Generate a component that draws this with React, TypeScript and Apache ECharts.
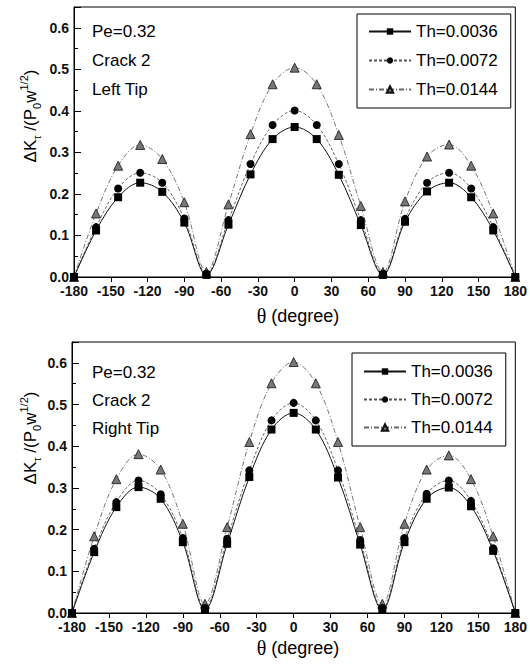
import React, { useEffect, useRef } from "react";
import * as echarts from "echarts";

// Angle positions along the crack front (degrees)
const theta = [-180, -162, -144, -126, -108, -90, -72, -54, -36, -18, 0, 18, 36, 54, 72, 90, 108, 126, 144, 162, 180];

const seriesNames = ["Th=0.0036", "Th=0.0072", "Th=0.0144"];

// Crack 2, left tip
const leftTh0036 = [0, 0.112, 0.192, 0.227, 0.205, 0.131, 0.005, 0.126, 0.247, 0.332, 0.361, 0.332, 0.246, 0.125, 0.005, 0.133, 0.206, 0.227, 0.192, 0.112, 0];
const leftTh0072 = [0, 0.120, 0.213, 0.251, 0.227, 0.141, 0.008, 0.137, 0.272, 0.366, 0.401, 0.366, 0.272, 0.137, 0.008, 0.140, 0.227, 0.251, 0.213, 0.120, 0];
const leftTh0144 = [0, 0.153, 0.268, 0.318, 0.284, 0.180, 0.012, 0.175, 0.344, 0.464, 0.504, 0.464, 0.342, 0.171, 0.012, 0.182, 0.290, 0.319, 0.268, 0.153, 0];

// Crack 2, right tip
const rightTh0036 = [0, 0.146, 0.254, 0.302, 0.274, 0.170, 0.008, 0.166, 0.326, 0.440, 0.480, 0.440, 0.325, 0.164, 0.008, 0.170, 0.274, 0.301, 0.256, 0.149, 0];
const rightTh0072 = [0, 0.154, 0.266, 0.318, 0.285, 0.180, 0.012, 0.178, 0.342, 0.462, 0.504, 0.462, 0.342, 0.175, 0.012, 0.180, 0.286, 0.318, 0.269, 0.155, 0];
const rightTh0144 = [0, 0.184, 0.321, 0.381, 0.344, 0.214, 0.022, 0.206, 0.410, 0.551, 0.602, 0.551, 0.410, 0.206, 0.022, 0.214, 0.344, 0.378, 0.321, 0.184, 0];

const xTicks = { min: -180, max: 180, interval: 30 };
const yTicks = { min: 0, max: 0.65, interval: 0.1 };

const SANS = 'Arial, "Liberation Sans", Helvetica, sans-serif';
const SERIF = '"Times New Roman", "Liberation Serif", serif';

const pair = (ys: number[]) => theta.map((t, i) => [t, ys[i]]);

const styles = [
  { symbol: "rect", symbolSize: 8, line: { color: "#111", width: 1, type: "solid" }, item: { color: "#000", borderColor: "#000", borderWidth: 0 } },
  { symbol: "circle", symbolSize: 8, line: { color: "#555", width: 0.9, type: [3, 2] }, item: { color: "#000", borderColor: "#000", borderWidth: 0 } },
  { symbol: "triangle", symbolSize: 9, line: { color: "#666", width: 0.9, type: [5, 2, 1, 2] }, item: { color: "#777", borderColor: "#111", borderWidth: 0.8 } },
];

function makeSeries(sets: number[][], axis: number) {
  return sets.map((ys, k) => ({
    name: seriesNames[k],
    type: "line",
    xAxisIndex: axis,
    yAxisIndex: axis,
    data: pair(ys),
    smooth: 0.35,
    symbol: styles[k].symbol,
    symbolSize: styles[k].symbolSize,
    lineStyle: styles[k].line,
    itemStyle: styles[k].item,
    z: 3 - k,
  }));
}

function xAxisDef(grid: number) {
  return {
    type: "value",
    gridIndex: grid,
    min: xTicks.min,
    max: xTicks.max,
    interval: xTicks.interval,
    axisLine: { show: true, onZero: false, lineStyle: { color: "#000", width: 1 } },
    axisTick: { show: true, inside: false, length: 5, lineStyle: { color: "#000" } },
    splitLine: { show: false },
    axisLabel: { margin: 7, color: "#111", fontSize: 14, fontWeight: "bold", fontFamily: SANS },
  };
}

function yAxisDef(grid: number) {
  return {
    type: "value",
    gridIndex: grid,
    min: yTicks.min,
    max: yTicks.max,
    interval: yTicks.interval,
    axisLine: { show: true, onZero: false, lineStyle: { color: "#000", width: 1 } },
    axisTick: { show: true, inside: true, length: 7, lineStyle: { color: "#000" } },
    minorTick: { show: true, splitNumber: 2, length: 4, lineStyle: { color: "#000" } },
    splitLine: { show: false },
    axisLabel: {
      margin: 5,
      color: "#111",
      fontSize: 14,
      fontWeight: "bold",
      fontFamily: SANS,
      formatter: (v: number) => (Math.abs(v * 10 - Math.round(v * 10)) < 1e-6 ? v.toFixed(1) : ""),
    },
  };
}

function legendDef(left: number, top: number, gap: number, pad: number[]) {
  return {
    data: seriesNames,
    orient: "vertical",
    left,
    top,
    itemWidth: 42,
    itemHeight: 8,
    itemGap: gap,
    padding: pad,
    borderColor: "#000",
    borderWidth: 1,
    backgroundColor: "#fff",
    selectedMode: false,
    textStyle: { color: "#000", fontSize: 17, lineHeight: 17, fontFamily: SANS },
  };
}

const yTitleRich = {
  a: { fontSize: 17, fontFamily: SANS, color: "#000", lineHeight: 24, verticalAlign: "middle" },
  s: { fontSize: 11, fontFamily: SANS, color: "#000", lineHeight: 11, verticalAlign: "bottom" },
  p: { fontSize: 11, fontFamily: SANS, color: "#000", lineHeight: 11, verticalAlign: "top" },
};

function yTitle(x: number, y: number) {
  return {
    type: "text",
    x,
    y,
    rotation: Math.PI / 2,
    style: {
      text: "{a|ΔK}{s|τ}{a| /(P}{s|0}{a|w}{p|1/2}{a|)}",
      rich: yTitleRich,
      align: "center",
      verticalAlign: "middle",
    },
  };
}

function xTitle(x: number, y: number) {
  return {
    type: "text",
    x,
    y,
    style: {
      text: "{t|θ}{d| (degree)}",
      rich: {
        t: { fontSize: 20, fontFamily: SERIF, color: "#000" },
        d: { fontSize: 18, fontFamily: SANS, color: "#000" },
      },
      align: "center",
      verticalAlign: "middle",
    },
  };
}

function note(text: string, y: number) {
  return {
    type: "text",
    x: 92,
    y,
    style: { text, fontSize: 17, fontFamily: SANS, fill: "#000", verticalAlign: "middle" },
  };
}

export default function App() {
  const ref = useRef<HTMLDivElement>(null);

  useEffect(() => {
    if (!ref.current) return;
    const chart = echarts.init(ref.current, null, { renderer: "svg" });
    chart.setOption({
      animation: false,
      backgroundColor: "#fff",
      grid: [
        { left: 74, top: 7, width: 445, height: 270, show: true, borderColor: "#000", borderWidth: 1 },
        { left: 72, top: 342, width: 445, height: 271, show: true, borderColor: "#000", borderWidth: 1 },
      ],
      xAxis: [xAxisDef(0), xAxisDef(1)],
      yAxis: [yAxisDef(0), yAxisDef(1)],
      legend: [
        legendDef(357, 14, 12, [9, 13, 10, 11]),
        legendDef(352, 353, 11, [10, 13, 10, 11]),
      ],
      series: [
        ...makeSeries([leftTh0036, leftTh0072, leftTh0144], 0),
        ...makeSeries([rightTh0036, rightTh0072, rightTh0144], 1),
      ],
      graphic: [
        note("Pe=0.32", 31),
        note("Crack 2", 60),
        note("Left Tip", 89),
        note("Pe=0.32", 372),
        note("Crack 2", 400),
        note("Right Tip", 428),
        yTitle(30, 116),
        yTitle(30, 438),
        xTitle(298, 316),
        xTitle(298, 648),
      ],
    });
    return () => chart.dispose();
  }, []);

  return <div ref={ref} style={{ position: "absolute", left: 0, top: 0, width: 530, height: 666 }} />;
}
